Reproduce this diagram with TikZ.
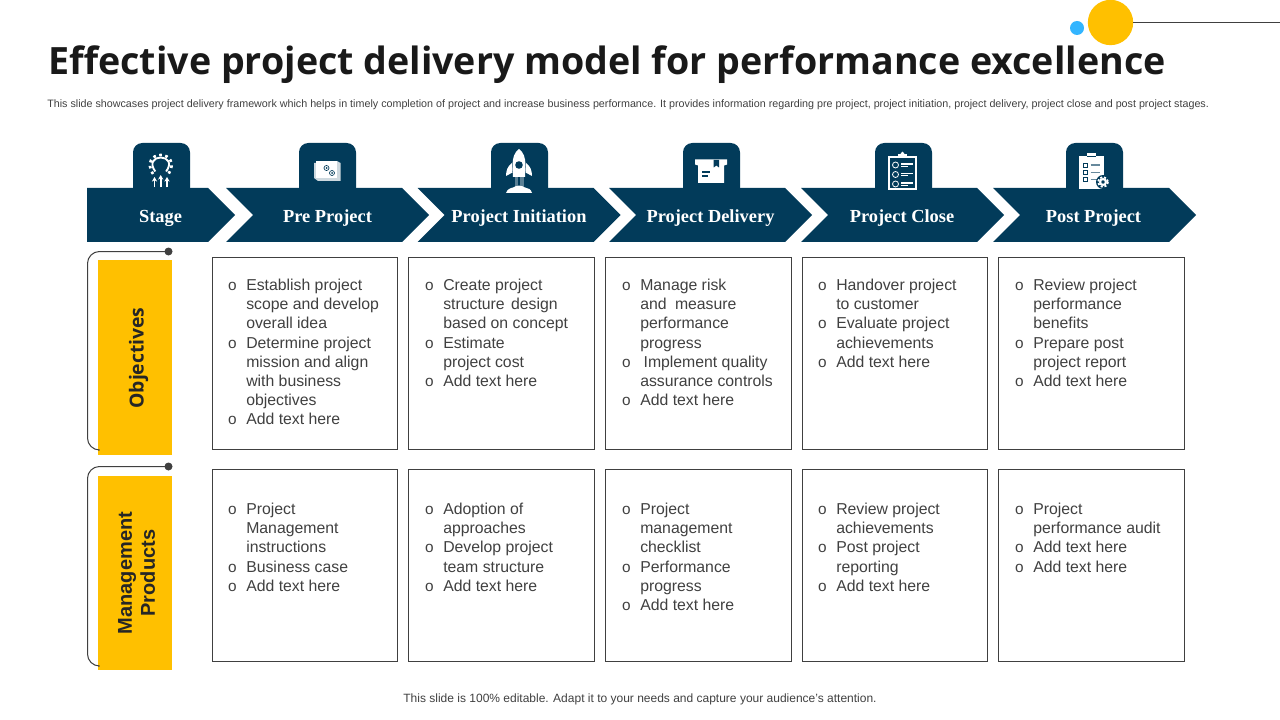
\documentclass[tikz,border=0pt]{standalone}
\usepackage{fontspec}
\usepackage{xcolor}
\setmainfont{Liberation Sans}
\newfontfamily\titlefont{Open Sans}
\newfontfamily\stagefont{Liberation Serif}
\usetikzlibrary{arrows.meta,positioning}
\definecolor{navy}{HTML}{023B5A}
\definecolor{amber}{HTML}{FFC000}
\definecolor{skyblue}{HTML}{33B5FF}
\definecolor{inkgray}{HTML}{404040}
\newcommand{\bl}{\strut\makebox[14.25pt][l]{\hspace{0.6pt}\fontsize{11.5}{11.5}\selectfont o}}
\newcommand{\ind}{\strut\hspace*{14.25pt}}
\tikzset{
  stagelabel/.style={text=white, font=\stagefont\bfseries\fontsize{13.8}{16}\selectfont},
  cellbox/.style={draw=inkgray, line width=0.75pt, minimum height=144.5pt, minimum width=139.2pt, inner sep=0},
  celltext/.style={anchor=north west, align=left, inner sep=0, text=inkgray, font=\fontsize{11.85}{14.35}\selectfont},
  sidebar/.style={fill=amber, minimum width=55.5pt, inner sep=0},
  sidelabel/.style={rotate=90, align=center, text=black!85},
  sidedot/.style={circle, fill=inkgray, minimum size=6pt, inner sep=0},
  bracket/.style={draw=inkgray, line width=0.75pt, rounded corners=9pt},
  tabbox/.style={fill=navy, rounded corners=7pt}
}
\begin{document}
\begin{tikzpicture}[x=0.75pt, y=-0.75pt]
    \useasboundingbox (0,0) rectangle (1280,720);

    % Corner decoration
    \node[circle, fill=skyblue, minimum size=10.5pt, inner sep=0] (bluedot) at (1077,28) {};
    \node[circle, fill=amber, minimum size=34pt, inner sep=0] (sundot) at (1110.5,22.5) {};
    \coordinate (lineend) at (1280,22.5);
    \draw[inkgray, line width=0.75pt] (sundot) -- (lineend);

    % Title
    \node[anchor=base west, inner sep=0, text=black!90, font=\titlefont\bfseries\fontsize{28.2}{34}\selectfont] (title) at (48,75) {Effective project delivery model for performance excellence};
    \node[anchor=base west, inner sep=0, text=inkgray, font=\fontsize{8.05}{9}\selectfont] (subtitle) at (47,108) {This slide showcases project delivery framework which helps in timely completion of project and increase business performance. It provides information regarding pre project, project initiation, project delivery, project close and post project stages.};

    % Tabs
    \foreach \x in {133, 299, 491, 683, 875, 1066}
        \fill[tabbox] (\x,143) -- (\x+57,143) -- (\x+57,200) -- (\x,200) -- cycle;

    % Stage arrows
    \fill[navy] (87,188) -- (208,188) -- (235,215) -- (208,242) -- (87,242) -- cycle;
    \foreach \x in {226, 417.5, 609, 801, 993}
        \fill[navy] (\x,188) -- (\x+176,188) -- (\x+203,215) -- (\x+176,242) -- (\x,242) -- (\x+27,215) -- cycle;
    \node[stagelabel] (stage) at (160.5,218) {Stage};
    \node[stagelabel] (preproject) at (327.5,218) {Pre Project};
    \node[stagelabel] (initiation) at (519,218) {Project Initiation};
    \node[stagelabel] (delivery) at (710.5,218) {Project Delivery};
    \node[stagelabel] (close) at (902,218) {Project Close};
    \node[stagelabel] (postproject) at (1093.5,218) {Post Project};

    % Icon: gear and arrows
    \draw[white, line width=1.4pt] (155.3,171.5) .. controls (149,163) and (154,157.5) .. (160.7,157.5) .. controls (167.5,157.5) and (172.5,163) .. (166.1,171.5);
    \draw[white, line width=2pt, dash pattern=on 2pt off 2.6pt] (153,174) .. controls (146,163) and (152,155) .. (160.7,155) .. controls (169.5,155) and (175.5,163) .. (168.5,174);
    \foreach \x/\yy in {154.5/177, 160.7/175, 167/177}
        \draw[white, line width=1.3pt, -{Stealth[length=3.5pt,width=4pt]}] (\x,187.5) -- (\x,\yy);

    % Icon: document with gears
    \fill[white!80!navy] (314,163) -- (337,161) -- (340.5,163) -- (340.5,181) -- (318,181) -- (314,178) -- cycle;
    \fill[white] (316,161) rectangle (337,178);
    \draw[navy, line width=0.5pt] (326.5,168) circle (2.5);
    \draw[navy, line width=0.5pt] (332,173) circle (2.5);
    \fill[navy] (326.5,168) circle (1);
    \fill[navy] (332,173) circle (1);

    % Icon: rocket
    \fill[navy!65!white] (514.5,177) rectangle (523.5,187);
    \fill[navy] (518,177) rectangle (520,187);
    \fill[white] (519,149) .. controls (523.5,152) and (525.5,158) .. (525.5,165) -- (525,177) -- (513,177) -- (512.5,165) .. controls (512.5,158) and (514.5,152) .. (519,149) -- cycle;
    \fill[white] (512,163) .. controls (507.5,166) and (506,171) .. (506,176) -- (512.5,172.5) -- cycle;
    \fill[white] (526,163) .. controls (530.5,166) and (532,171) .. (532,176) -- (525.5,172.5) -- cycle;
    \fill[navy] (519,165) circle (3.8);
    \fill[white] (506,193) .. controls (507,189) and (511,188) .. (513,187.5) .. controls (517,185) and (521,185) .. (525,187.5) .. controls (528,188) and (531,189) .. (532,193) -- cycle;

    % Icon: parcel box
    \fill[white] (695,159.5) -- (727,159.5) -- (727,164.5) -- (724,165.5) -- (724,183) -- (698,183) -- (698,165.5) -- (695,164.5) -- cycle;
    \fill[navy] (713.7,160) -- (719,160) -- (719,167.5) -- (716.3,165.5) -- (713.7,167.5) -- cycle;
    \draw[navy, line width=0.9pt] (702,172) -- (710,172);
    \draw[navy, line width=0.9pt] (702,176) -- (708,176);

    % Icon: checklist
    \draw[white, line width=1.2pt] (889,157) rectangle (916,189);
    \fill[white] (898,154) rectangle (907,158);
    \fill[white] (902.5,153.5) circle (1.8);
    \foreach \y in {165, 174.5, 184} {
        \draw[white, line width=0.6pt] (895.5,\y) circle (3);
        \draw[white, line width=1.2pt] (901,\y-1) -- (913,\y-1);
        \draw[white, line width=0.8pt] (901,\y+1.3) -- (908,\y+1.3);
    }

    % Icon: clipboard with gear
    \fill[white] (1079,156) rectangle (1104,189);
    \fill[white] (1087,153) rectangle (1096,157);
    \fill[navy] (1087,156.4) rectangle (1096,157.4);
    \foreach \y in {165, 172.5, 179.5} {
        \draw[navy, line width=0.7pt] (1083,\y-2) rectangle (1087.5,\y+2);
        \draw[navy!60!white, line width=1pt] (1090.5,\y) -- (1100,\y);
    }
    \fill[navy] (1103,182) circle (7);
    \draw[white, line width=1.5pt] (1103,182) circle (2.9);
    \draw[white, line width=1.4pt, dash pattern=on 1.6pt off 1.4pt] (1103,182) circle (5);

    % Side bars
    \node[sidebar, minimum height=146.25pt] (objbar) at (135,357.5) {};
    \node[sidebar, minimum height=145.5pt] (prodbar) at (135,573) {};
    \node[sidelabel, font=\titlefont\bfseries\fontsize{14.5}{17}\selectfont] (objlabel) at (138.5,358) {Objectives};
    \node[sidelabel, font=\bfseries\fontsize{15}{17.25}\selectfont] (prodlabel) at (136.5,573) {Management\\Products};

    % Brackets
    \node[sidedot] (objdot) at (168.5,251.5) {};
    \node[sidedot] (proddot) at (168.5,466.5) {};
    \coordinate (objfoot) at (98,450);
    \coordinate (prodfoot) at (98,666);
    \draw[bracket] (objdot.center) -- (87.5,251.5) -- (87.5,450) -- (objfoot);
    \draw[bracket] (proddot.center) -- (87.5,466.5) -- (87.5,666) -- (prodfoot);

    % Cells
    \foreach \x/\n in {305/1, 501.5/2, 698.5/3, 895/4, 1091.5/5} {
        \node[cellbox] (objcell\n) at (\x,353.5) {};
        \node[cellbox] (prodcell\n) at (\x,565.5) {};
    }

    % Objectives row
    \node[celltext] (objtext1) at (227,277) {\bl Establish project\\\ind scope and develop\\\ind overall idea\\\bl Determine project\\\ind mission and align\\\ind with business\\\ind objectives\\\bl Add text here};
    \node[celltext] (objtext2) at (424,277) {\bl Create project\\\ind structure\hspace{1.5pt} design\\\ind based on concept\\\bl Estimate\\\ind project cost\\\bl Add text here};
    \node[celltext] (objtext3) at (621,277) {\bl Manage risk\\\ind and\hspace{3pt} measure\\\ind performance\\\ind progress\\\bl \hspace{2.5pt}Implement quality\\\ind assurance controls\\\bl Add text here};
    \node[celltext] (objtext4) at (817,277) {\bl Handover project\\\ind to customer\\\bl Evaluate project\\\ind achievements\\\bl Add text here};
    \node[celltext] (objtext5) at (1014,277) {\bl Review project\\\ind performance\\\ind benefits\\\bl Prepare post\\\ind project report\\\bl Add text here};

    % Management products row
    \node[celltext] (prodtext1) at (227,501) {\bl Project\\\ind Management\\\ind instructions\\\bl Business case\\\bl Add text here};
    \node[celltext] (prodtext2) at (424,501) {\bl Adoption of\\\ind approaches\\\bl Develop project\\\ind team structure\\\bl Add text here};
    \node[celltext] (prodtext3) at (621,501) {\bl Project\\\ind management\\\ind checklist\\\bl Performance\\\ind progress\\\bl Add text here};
    \node[celltext] (prodtext4) at (817,501) {\bl Review project\\\ind achievements\\\bl Post project\\\ind reporting\\\bl Add text here};
    \node[celltext] (prodtext5) at (1014,501) {\bl Project\\\ind performance audit\\\bl Add text here\\\bl Add text here};

    % Footer
    \node[text=inkgray, inner sep=0, font=\fontsize{9}{11}\selectfont] (footer) at (640,699.5) {This slide is 100\% editable. Adapt it to your needs and capture your audience's attention.};
\end{tikzpicture}
\end{document}
